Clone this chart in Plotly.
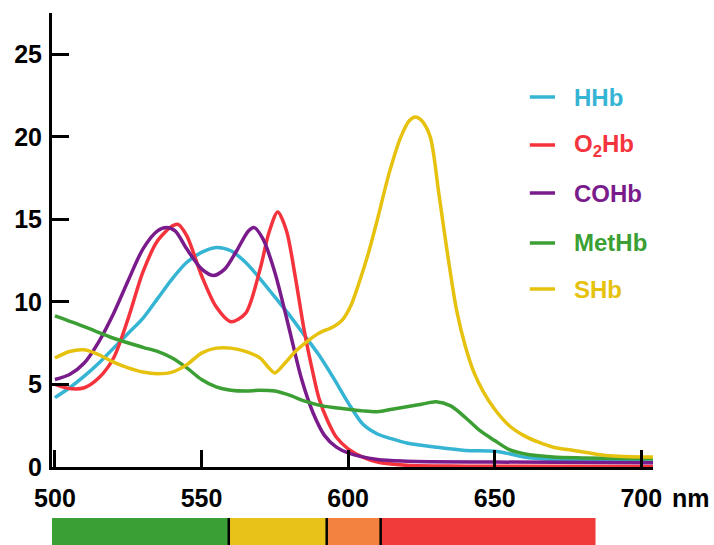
import plotly.graph_objects as go

# ---- data ----
names = ["HHb", "O<sub>2</sub>Hb", "COHb", "MetHb", "SHb"]
colors = ["#35b4d4", "#f4333c", "#7a1b8c", "#3b9f34", "#e6c20e"]

hhb_x = [500, 505, 510, 515, 520, 525, 530, 535, 540, 545, 550, 555, 560, 565, 570, 575, 580, 585, 590, 595, 600, 605, 610, 615, 620, 630, 640, 650, 655, 660, 670, 680, 690, 704]
hhb_y = [4.2, 4.8, 5.5, 6.3, 7.2, 8.1, 9.0, 10.2, 11.4, 12.4, 13.0, 13.3, 13.1, 12.4, 11.4, 10.3, 9.2, 8.0, 6.8, 5.4, 3.9, 2.6, 2.0, 1.7, 1.45, 1.2, 1.0, 0.95, 0.8, 0.6, 0.45, 0.4, 0.35, 0.3]

o2hb_x = [500, 505, 510, 515, 520, 525, 530, 535, 540, 542, 545, 550, 555, 560, 565, 570, 573, 576, 579, 582, 585, 588, 590, 593, 596, 600, 605, 610, 620, 640, 704]
o2hb_y = [5.0, 4.75, 4.8, 5.4, 6.6, 9.0, 11.8, 13.7, 14.6, 14.7, 14.0, 11.6, 9.7, 8.8, 9.3, 12.0, 14.2, 15.45, 14.3, 11.5, 8.3, 5.7, 4.2, 2.8, 1.8, 1.1, 0.6, 0.3, 0.1, 0.05, 0.03]

cohb_x = [500, 505, 510, 515, 520, 525, 530, 535, 538, 541, 545, 550, 554, 558, 562, 566, 568, 571, 575, 580, 584, 588, 592, 596, 600, 610, 620, 650, 704]
cohb_y = [5.3, 5.6, 6.3, 7.6, 9.3, 11.3, 13.2, 14.3, 14.5, 14.3, 13.2, 12.0, 11.6, 12.0, 13.1, 14.3, 14.5, 13.8, 11.8, 8.3, 5.4, 3.3, 1.9, 1.2, 0.85, 0.45, 0.35, 0.3, 0.25]

methb_x = [500, 510, 520, 530, 535, 540, 545, 550, 555, 560, 565, 570, 575, 580, 585, 590, 595, 600, 605, 610, 615, 620, 625, 630, 635, 640, 645, 650, 655, 660, 670, 680, 704]
methb_y = [9.15, 8.5, 7.8, 7.25, 7.0, 6.6, 6.0, 5.3, 4.85, 4.65, 4.6, 4.65, 4.6, 4.35, 4.0, 3.75, 3.6, 3.5, 3.4, 3.35, 3.5, 3.65, 3.8, 3.95, 3.7, 3.0, 2.2, 1.6, 1.05, 0.8, 0.6, 0.55, 0.5]

shb_x = [500, 505, 510, 515, 520, 525, 530, 535, 540, 545, 550, 555, 560, 565, 570, 573, 575, 578, 582, 586, 590, 595, 598, 601, 604, 607, 610, 614, 618, 621, 623, 625, 628, 631, 634, 637, 640, 643, 646, 650, 655, 660, 665, 670, 677, 688, 704]
shb_y = [6.6, 7.0, 7.1, 6.8, 6.35, 6.0, 5.75, 5.65, 5.75, 6.2, 6.9, 7.2, 7.2, 7.0, 6.6, 6.0, 5.7, 6.2, 7.0, 7.6, 8.1, 8.5, 8.9, 9.8, 11.3, 13.0, 15.0, 17.8, 20.0, 21.0, 21.2, 21.0, 20.0, 16.5, 12.8, 9.5, 7.3, 5.7, 4.6, 3.5, 2.5, 1.9, 1.5, 1.2, 1.0, 0.7, 0.6]

series_x = [hhb_x, o2hb_x, cohb_x, methb_x, shb_x]
series_y = [hhb_y, o2hb_y, cohb_y, methb_y, shb_y]

x_ticks = [500, 550, 600, 650, 700]
y_ticks = [0, 5, 10, 15, 20, 25]

# visible-spectrum bands under the axis (nm)
band_edges = [498, 559.3, 592.7, 611.1, 684.4]
band_colors = ["#3aa036", "#e8c119", "#f3813f", "#f13a3a"]

FONT = "Liberation Sans"

fig = go.Figure()
for xs, ys, nm, col in zip(series_x, series_y, names, colors):
    fig.add_trace(go.Scatter(x=xs, y=ys, mode="lines", name=nm,
                             line=dict(color=col, width=3.5, shape="spline", smoothing=0.8),
                             showlegend=False))

shapes = []
# colour bands
for i, col in enumerate(band_colors):
    shapes.append(dict(type="rect", xref="x", yref="paper",
                       x0=band_edges[i], x1=band_edges[i + 1], y0=-0.1125, y1=-0.25,
                       fillcolor=col, line=dict(width=0), layer="above"))
for e in band_edges[1:-1]:
    shapes.append(dict(type="line", xref="x", yref="paper", x0=e, x1=e,
                       y0=-0.1125, y1=-0.25, line=dict(color="black", width=2.5)))

# manual legend
annotations = []
leg_y_px = [97, 145, 193, 243, 289]
for nm, col, py in zip(names, colors, leg_y_px):
    yp = (467 - py) / 454
    shapes.append(dict(type="line", xref="paper", yref="paper", x0=0.795, x1=0.837,
                       y0=yp, y1=yp, line=dict(color=col, width=3.5)))
    annotations.append(dict(xref="paper", yref="paper", x=0.865, y=yp, text=nm,
                            showarrow=False, xanchor="left", yanchor="middle",
                            font=dict(family=FONT, size=24, color=col, weight="bold")))

annotations.append(dict(xref="paper", yref="paper", x=1.0, y=-0.068, text="nm",
                        showarrow=False, xanchor="left", yanchor="middle", xshift=17,
                        font=dict(family=FONT, size=25, color="black", weight="bold")))

fig.update_layout(
    width=714, height=545,
    margin=dict(l=52, r=61, t=13, b=78, autoexpand=False),
    plot_bgcolor="white", paper_bgcolor="white",
    font=dict(family=FONT, size=25, color="black", weight="bold"),
    shapes=shapes, annotations=annotations,
    xaxis=dict(range=[499, 704], tickvals=x_ticks, ticks="inside", ticklen=17, tickwidth=3,
               tickcolor="black", showline=True, linecolor="black", linewidth=3,
               showgrid=False, zeroline=False, ticklabelstandoff=7, automargin=False,
               tickfont=dict(family=FONT, size=25, color="black", weight="bold")),
    yaxis=dict(range=[0, 27.5], tickvals=y_ticks, ticks="inside", ticklen=17, tickwidth=3,
               tickcolor="black", showline=True, linecolor="black", linewidth=3,
               showgrid=False, zeroline=False, ticklabelstandoff=2, automargin=False,
               tickfont=dict(family=FONT, size=25, color="black", weight="bold")),
)

fig.write_html("out.html", config={"displayModeBar": False},
               post_script="document.body.style.margin='0';document.body.style.overflow='hidden';")
